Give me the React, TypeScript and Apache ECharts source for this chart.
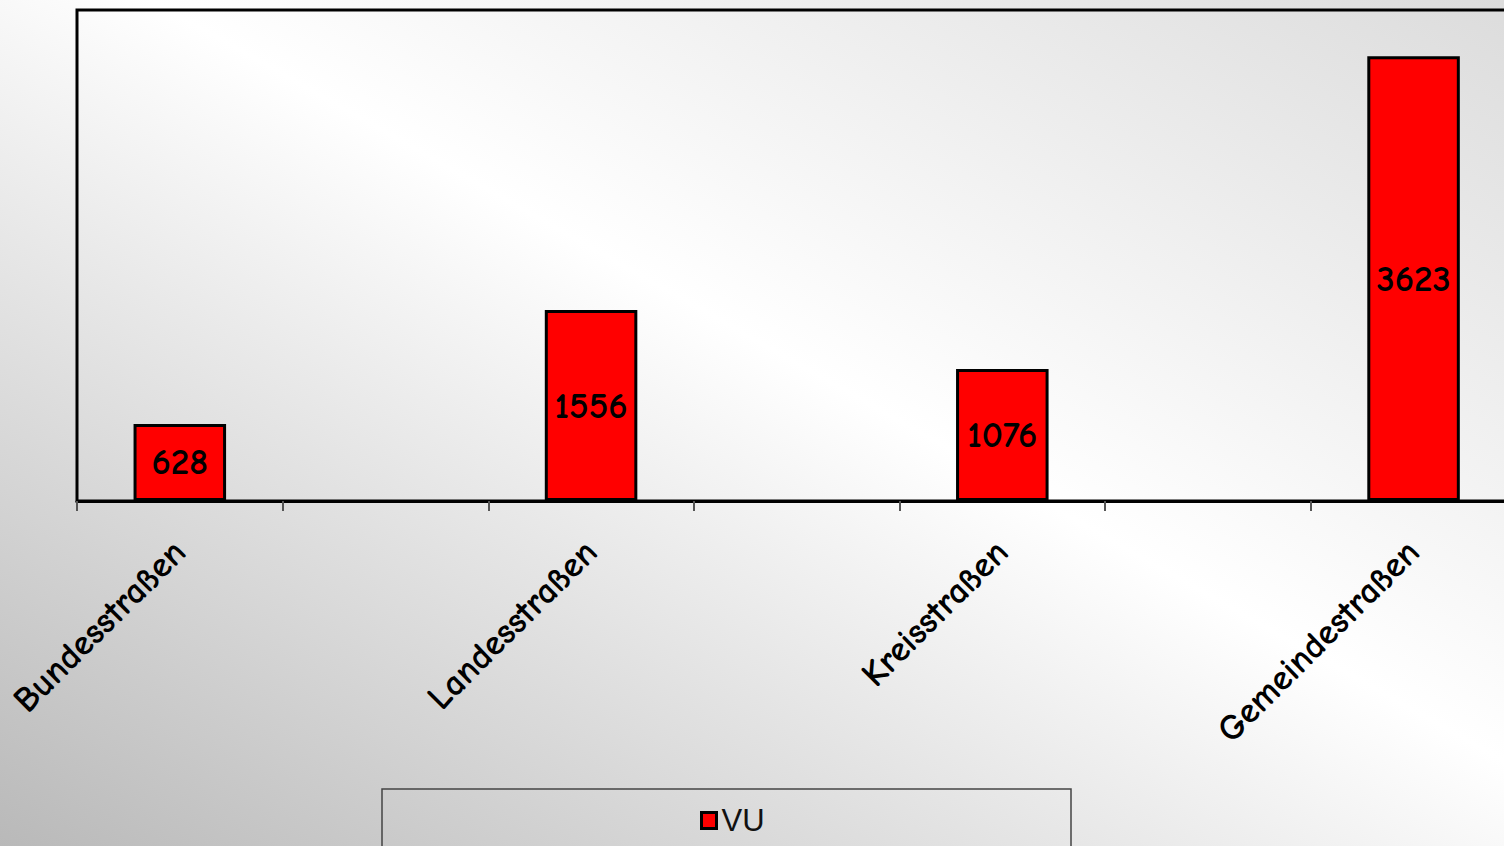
import React, { useEffect, useRef } from "react";
import * as echarts from "echarts";

const categories: string[] = ["Bundesstraßen", "", "Landesstraßen", "", "Kreisstraßen", "", "Gemeindestraßen", ""];
const vuValues: (number | string)[] = [628, "-", 1556, "-", 1076, "-", 3623, "-"];
const seriesName = "VU";
const yMin = 0;
const yMax = 4000;

const FONT = "'Comic Sans MS', 'Comic Neue', 'DejaVu Sans', sans-serif";

export default function App() {
  const ref = useRef<HTMLDivElement>(null);
  useEffect(() => {
    if (!ref.current) return;
    const chart = echarts.init(ref.current, undefined, { renderer: "svg" });
    chart.setOption({
      animation: false,
      backgroundColor: "transparent",
      grid: {
        left: 77,
        top: 10,
        width: 1645,
        height: 491,
        show: true,
        borderColor: "#000",
        borderWidth: 3,
        backgroundColor: "transparent",
      },
      legend: {
        show: true,
        left: 695,
        top: 800,
        itemWidth: 15,
        itemHeight: 16,
        itemGap: 4,
        icon: "rect",
        data: [{ name: seriesName, itemStyle: { color: "#ff0000", borderColor: "#000", borderWidth: 3 } }],
        textStyle: { fontFamily: "'Liberation Sans', Arial, sans-serif", fontSize: 31, color: "#111", padding: [0, 0, 0, 0] },
      },
      graphic: [
        {
          type: "rect",
          shape: { x: 382, y: 789, width: 689, height: 120 },
          style: { fill: "transparent", stroke: "#444", lineWidth: 1.5 },
          silent: true,
          z: -1,
        },
      ],
      xAxis: {
        type: "category",
        data: categories,
        boundaryGap: true,
        axisLine: { show: true, lineStyle: { color: "#000", width: 3 } },
        axisTick: { show: true, interval: 0, length: 10, inside: false, lineStyle: { color: "#555", width: 2 } },
        axisLabel: {
          show: true,
          interval: 0,
          rotate: 45,
          margin: 45,
          fontFamily: FONT,
          fontSize: 36,
          fontWeight: "bold",
          color: "#000",
        },
        splitLine: { show: false },
      },
      yAxis: {
        type: "value",
        min: yMin,
        max: yMax,
        axisLine: { show: false },
        axisTick: { show: false },
        axisLabel: { show: false },
        splitLine: { show: false },
      },
      series: [
        {
          name: seriesName,
          type: "bar",
          data: vuValues,
          barWidth: "45%",
          itemStyle: { color: "#ff0000", borderColor: "#000", borderWidth: 3 },
          label: {
            show: true,
            position: "inside",
            fontFamily: FONT,
            fontSize: 37,
            fontWeight: "bold",
            color: "#000",
          },
        },
      ],
    });
    return () => chart.dispose();
  }, []);
  return (
    <div
      style={{
        position: "absolute",
        left: 0,
        top: 0,
        width: 1504,
        height: 846,
        overflow: "hidden",
        background: "linear-gradient(to top right, #b9b9b9 0%, #ffffff 55%, #dcdcdc 100%)",
      }}
    >
      <div ref={ref} style={{ width: 1800, height: 900 }} />
    </div>
  );
}
